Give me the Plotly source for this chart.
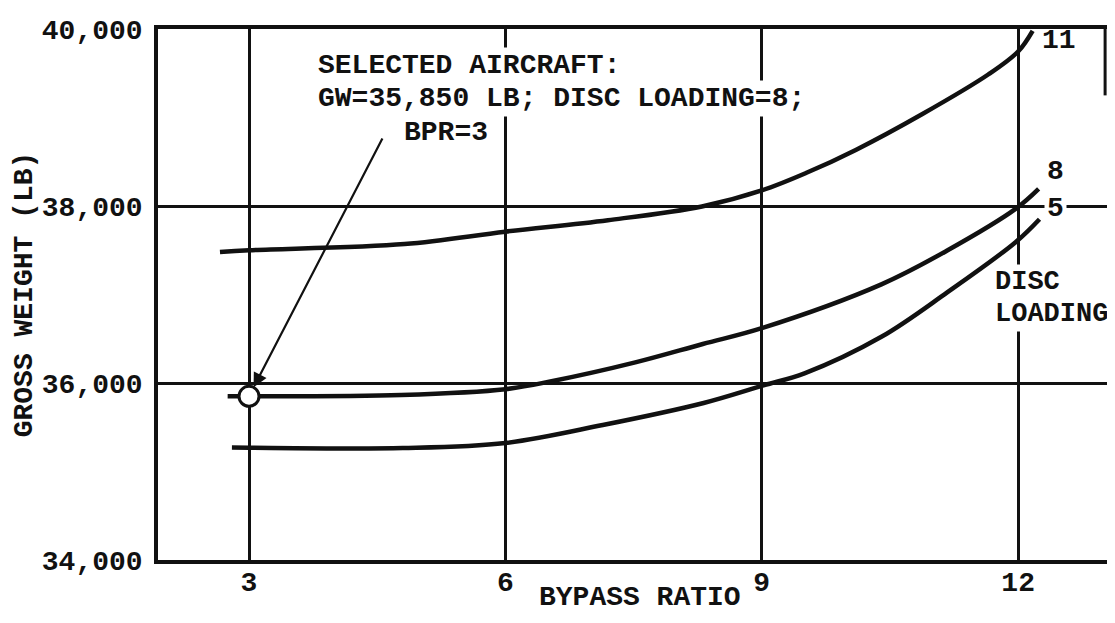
import plotly.graph_objects as go

# ---- data ----
bpr_dl11 = [2.66, 3.0, 4.82, 6.0, 7.2, 8.3, 9.0, 9.53, 10.1, 10.88, 11.65, 12.0, 12.17]
gw_dl11 = [37480, 37500, 37570, 37710, 37840, 37995, 38176, 38378, 38634, 39040, 39486, 39746, 39980]

bpr_dl8 = [2.75, 3.0, 4.78, 6.0, 6.54, 7.52, 8.31, 9.0, 10.4, 11.17, 11.97, 12.24]
gw_dl8 = [35850, 35850, 35865, 35930, 36020, 36233, 36441, 36620, 37115, 37497, 37967, 38193]

bpr_dl5 = [2.8, 3.0, 4.8, 6.0, 7.14, 8.32, 9.02, 9.5, 10.4, 11.17, 11.97, 12.25]
gw_dl5 = [35270, 35268, 35265, 35322, 35525, 35774, 35973, 36109, 36522, 37024, 37591, 37851]

selected_bpr = [3]
selected_gw = [35850]

x_ticks = [3, 6, 9, 12]
x_tick_labels = ["3", "6", "9", "12"]
y_ticks = [34000, 36000, 38000, 40000]
y_tick_labels = ["34,000", "36,000", "38,000", "40,000"]

INK = "#111111"
MONO = "Liberation Mono, DejaVu Sans Mono, monospace"
FS = 28

fig = go.Figure()
for xs, ys in [(bpr_dl11, gw_dl11), (bpr_dl8, gw_dl8), (bpr_dl5, gw_dl5)]:
    fig.add_trace(go.Scatter(x=xs, y=ys, mode="lines",
                             line=dict(color=INK, width=4.5, shape="spline", smoothing=1.0),
                             hoverinfo="skip", showlegend=False))

fig.add_trace(go.Scatter(x=selected_bpr, y=selected_gw, mode="markers",
                         marker=dict(symbol="circle", size=20, color="white",
                                     line=dict(color=INK, width=3)),
                         showlegend=False))


def txt(x, y, s, bg="white", size=FS):
    return dict(x=x, y=y, xref="x", yref="y", xanchor="left", yanchor="middle",
                align="left", text="<b>" + s + "</b>", showarrow=False,
                bgcolor=bg, font=dict(family=MONO, size=size, color=INK), borderpad=2)


annotations = [
    txt(3.77, 39590, "SELECTED AIRCRAFT:"),
    txt(3.77, 39210, "GW=35,850 LB; DISC LOADING=8;"),
    txt(4.78, 38830, "BPR=3"),
    dict(x=selected_bpr[0], y=selected_gw[0], xref="x", yref="y", ax=4.57, ay=38780,
         axref="x", ayref="y", text="", showarrow=True, arrowhead=2, arrowsize=1.3,
         arrowwidth=2.2, arrowcolor=INK, standoff=10),
    txt(11.69, 37140, "DISC", size=27),
    txt(11.69, 36780, "LOADING", size=27),
    txt(12.25, 39870, "11", bg=None),
    txt(12.3, 38390, "8"),
    txt(12.3, 37970, "5"),
    # x-axis title
    dict(x=0.508, y=0, xref="paper", yref="paper", xanchor="center", yanchor="bottom",
         yshift=-54, text="<b>BYPASS RATIO</b>", showarrow=False, borderpad=0,
         font=dict(family=MONO, size=FS, color=INK)),
]

fig.update_layout(
    width=1099, height=607,
    margin=dict(l=150, r=0, t=21, b=55),
    paper_bgcolor="white", plot_bgcolor="white",
    annotations=annotations,
    showlegend=False,
    shapes=[dict(type="line", xref="x domain", yref="y", x0=0.998, x1=0.998, y0=39250, y1=40000,
                 line=dict(color=INK, width=3))],
)
fig.update_xaxes(range=[1.935, 13.04], tickvals=x_ticks,
                 ticktext=["<b>" + t + "</b>" for t in x_tick_labels],
                 automargin=False, ticklabelstandoff=-6,
                 showgrid=True, gridcolor=INK, gridwidth=2.5, zeroline=False,
                 showline=True, linecolor=INK, linewidth=3.5, mirror=True, ticks="",
                 tickfont=dict(family=MONO, size=FS, color=INK))
fig.update_yaxes(range=[34000, 40000], tickvals=y_ticks,
                 ticktext=["<b>" + t + "</b>" for t in y_tick_labels],
                 automargin=False,
                 showgrid=True, gridcolor=INK, gridwidth=2.5, zeroline=False,
                 showline=True, linecolor=INK, linewidth=3.5, mirror=False, ticks="",
                 ticklabelstandoff=6,
                 tickfont=dict(family=MONO, size=FS, color=INK),
                 title=dict(text="<b>GROSS WEIGHT (LB)</b>", font=dict(family=MONO, size=FS, color=INK),
                            standoff=2))

fig.write_html("out.html")
